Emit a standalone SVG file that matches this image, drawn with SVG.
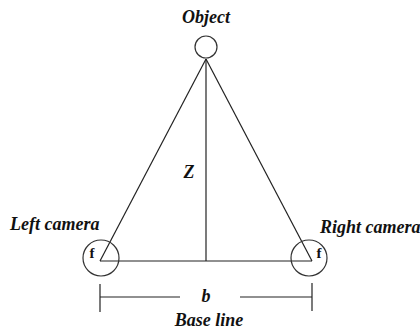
<svg xmlns="http://www.w3.org/2000/svg" width="420" height="329" viewBox="0 0 420 329">
<style>
.t{font-family:"Liberation Serif","Times New Roman",serif;font-weight:bold;font-style:italic;font-size:18px;fill:#111}
.f{font-family:"Liberation Serif","Times New Roman",serif;font-weight:bold;font-size:15px;fill:#111}
.ln{stroke:#222;stroke-width:1.2;fill:none}
.c{stroke:#333;stroke-width:1.2;fill:#fff}
</style>
<rect width="420" height="329" fill="#fff"/>
<g id="connectors">
<line class="ln" x1="206" y1="59" x2="100" y2="261"/>
<line class="ln" x1="206" y1="59" x2="312" y2="261"/>
<line class="ln" x1="206" y1="59" x2="206" y2="261"/>
<line class="ln" x1="100" y1="261" x2="312" y2="261"/>
<line class="ln" x1="100" y1="284" x2="100" y2="312"/>
<line class="ln" x1="312" y1="283" x2="312" y2="311"/>
<line class="ln" x1="100" y1="297" x2="180" y2="297"/>
<line class="ln" x1="240" y1="297" x2="312" y2="297"/>
</g>
<g id="object">
<circle class="c" cx="206" cy="47" r="11"/>
<text class="t" x="206" y="23" text-anchor="middle">Object</text>
</g>
<g id="left-camera">
<circle class="c" cx="101" cy="258" r="18" fill="none" style="fill:none"/>
<text class="f" x="92" y="258" text-anchor="middle">f</text>
<text class="t" x="10" y="230">Left camera</text>
</g>
<g id="right-camera">
<circle class="c" cx="309" cy="258" r="18" style="fill:none"/>
<text class="f" x="319" y="258" text-anchor="middle">f</text>
<text class="t" x="320" y="233">Right camera</text>
</g>
<g id="labels">
<text class="t" x="189" y="178" text-anchor="middle">Z</text>
<text class="t" x="206" y="302" text-anchor="middle">b</text>
<text class="t" x="209" y="326" text-anchor="middle">Base line</text>
</g>
</svg>
